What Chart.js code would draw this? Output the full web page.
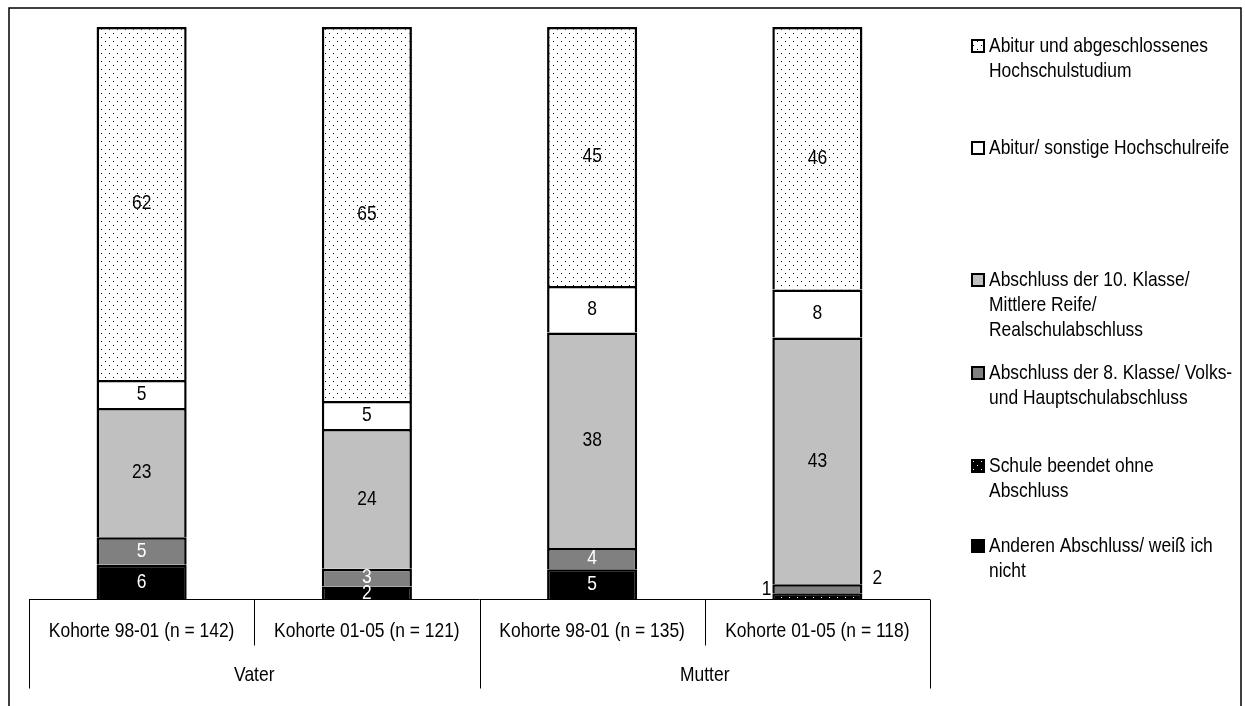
<!DOCTYPE html>
<html>
<head>
<meta charset="utf-8">
<script src="https://cdn.jsdelivr.net/npm/chart.js@4.4.1/dist/chart.umd.min.js"></script>
<style>
  html, body { margin: 0; padding: 0; background: #fff; }
  #wrap { width: 1245px; height: 706px; }
</style>
</head>
<body>
<div id="wrap"><canvas id="myChart" width="1245" height="706"></canvas></div>
<script>
// categories and groups for the x axis table
const categories = ['Kohorte 98-01 (n = 142)', 'Kohorte 01-05 (n = 121)', 'Kohorte 98-01 (n = 135)', 'Kohorte 01-05 (n = 118)'];
const groups = ['Vater', 'Mutter'];

// percent shares (bottom to top)
const anderen = [6.0, 2.2, 5.2, 0];
const ohneAbschluss = [0, 0, 0, 1.0];
const klasse8 = [4.8, 3.1, 3.7, 1.6];
const klasse10 = [22.6, 24.4, 37.7, 43.1];
const abitur = [4.9, 4.9, 8.1, 8.4];
const hochschule = [61.7, 65.4, 45.3, 45.9];

const seriesNames = [
    ['Anderen Abschluss/ weiß ich', 'nicht'],
    ['Schule beendet ohne', 'Abschluss'],
    ['Abschluss der 8. Klasse/ Volks-', 'und Hauptschulabschluss'],
    ['Abschluss der 10. Klasse/', 'Mittlere Reife/', 'Realschulabschluss'],
    ['Abitur/ sonstige Hochschulreife'],
    ['Abitur und abgeschlossenes', 'Hochschulstudium']
];

const FONT = "21px 'Liberation Sans Narrow', 'Arial Narrow', 'Liberation Sans', sans-serif";
const SQUEEZE = 0.83; // no narrow face installed, so squeeze the regular one

function narrowText(c, txt, x, y) {
    c.save();
    c.translate(x, y);
    c.scale(SQUEEZE, 1);
    c.fillText(txt, 0, 0);
    c.restore();
}

function dotPattern(bg, dot) {
    let c = document.createElement('canvas');
    c.width = 8; c.height = 8;
    let g = c.getContext('2d');
    g.fillStyle = bg;
    g.fillRect(0, 0, 8, 8);
    g.fillStyle = dot;
    g.fillRect(1, 1, 1, 1);
    g.fillRect(5, 5, 1, 1);
    return document.getElementById('myChart').getContext('2d').createPattern(c, 'repeat');
}

let ctx = document.getElementById('myChart').getContext('2d');
let whiteDots = dotPattern('#ffffff', '#000000');
let blackDots = dotPattern('#000000', '#ffffff');

let fills = ['#000000', blackDots, '#808080', '#c0c0c0', '#ffffff', whiteDots];
let labelColors = ['#ffffff', '#000000', '#ffffff', '#000000', '#000000', '#000000'];
let values = [anderen, ohneAbschluss, klasse8, klasse10, abitur, hochschule];

let datasets = values.map((v, i) => ({
    label: seriesNames[i].join(' '),
    data: v,
    backgroundColor: fills[i],
    borderColor: '#000000',
    borderWidth: 2.5,
    borderSkipped: 'start',
    barPercentage: 0.4,
    categoryPercentage: 1.0
}));

// value labels in the segments
const segmentLabels = {
    id: 'segmentLabels',
    afterDatasetsDraw(chart) {
        let c = chart.ctx;
        c.save();
        c.font = FONT;
        c.textBaseline = 'middle';
        chart.data.datasets.forEach((ds, di) => {
            chart.getDatasetMeta(di).data.forEach((bar, i) => {
                let v = ds.data[i];
                if (!v) return;
                let txt = String(Math.round(v));
                let yMid = (bar.y + bar.base) / 2;
                if (v < 2) {
                    c.fillStyle = '#000000';
                    if (di === 1) {
                        c.textAlign = 'right';
                        narrowText(c, txt, bar.x - bar.width / 2 - 1, yMid - 7);
                    } else {
                        c.textAlign = 'left';
                        narrowText(c, txt, bar.x + bar.width / 2 + 10, yMid - 11);
                    }
                } else {
                    c.fillStyle = labelColors[di];
                    c.textAlign = 'center';
                    narrowText(c, txt, bar.x, yMid);
                }
            });
        });
        c.restore();
    }
};

// table under the bars, legend on the right, outer frame
const decorations = {
    id: 'decorations',
    afterDraw(chart) {
        let c = chart.ctx;
        let a = chart.chartArea;
        let xs = chart.scales.x;
        let step = xs.getPixelForValue(1) - xs.getPixelForValue(0);
        c.save();
        c.strokeStyle = '#000000';

        // frame
        c.lineWidth = 1.5;
        c.beginPath();
        c.moveTo(9, 720); c.lineTo(9, 8); c.lineTo(1241, 8); c.lineTo(1241, 720);
        c.stroke();

        // axis table
        c.lineWidth = 1;
        let top = Math.round(a.bottom) + 0.5;
        let mid = top + 46;
        let bottom = top + 89;
        c.beginPath();
        c.moveTo(a.left, top); c.lineTo(a.right, top);
        for (let i = 0; i <= categories.length; i++) {
            let x = Math.round(a.left + i * step) + 0.5;
            c.moveTo(x, top);
            c.lineTo(x, i % 2 === 0 ? bottom : mid);
        }
        c.stroke();

        c.fillStyle = '#000000';
        c.font = FONT;
        c.textAlign = 'center';
        c.textBaseline = 'middle';
        categories.forEach((t, i) => narrowText(c, t, xs.getPixelForValue(i), top + 32));
        groups.forEach((t, i) => narrowText(c, t, a.left + step * (2 * i + 1), top + 76));

        // legend
        let legendY = [546, 466, 373, 280, 148, 46];
        c.textAlign = 'left';
        chart.data.datasets.forEach((ds, di) => {
            let y = legendY[di];
            c.fillStyle = ds.backgroundColor;
            c.fillRect(972, y - 6, 12, 12);
            c.lineWidth = 2;
            c.strokeRect(972, y - 6, 12, 12);
            c.fillStyle = '#000000';
            seriesNames[di].forEach((line, li) => narrowText(c, line, 989, y + li * 25));
        });
        c.restore();
    }
};

new Chart(ctx, {
    type: 'bar',
    data: {
        labels: categories,
        datasets: datasets
    },
    options: {
        responsive: false,
        animation: false,
        devicePixelRatio: 1,
        layout: { padding: { left: 29, right: 315, top: 27, bottom: 107 } },
        plugins: {
            legend: { display: false },
            tooltip: { enabled: false }
        },
        scales: {
            x: { stacked: true, display: false },
            y: { stacked: true, display: false, min: 0, max: 100 }
        }
    },
    plugins: [segmentLabels, decorations]
});
</script>
</body>
</html>
